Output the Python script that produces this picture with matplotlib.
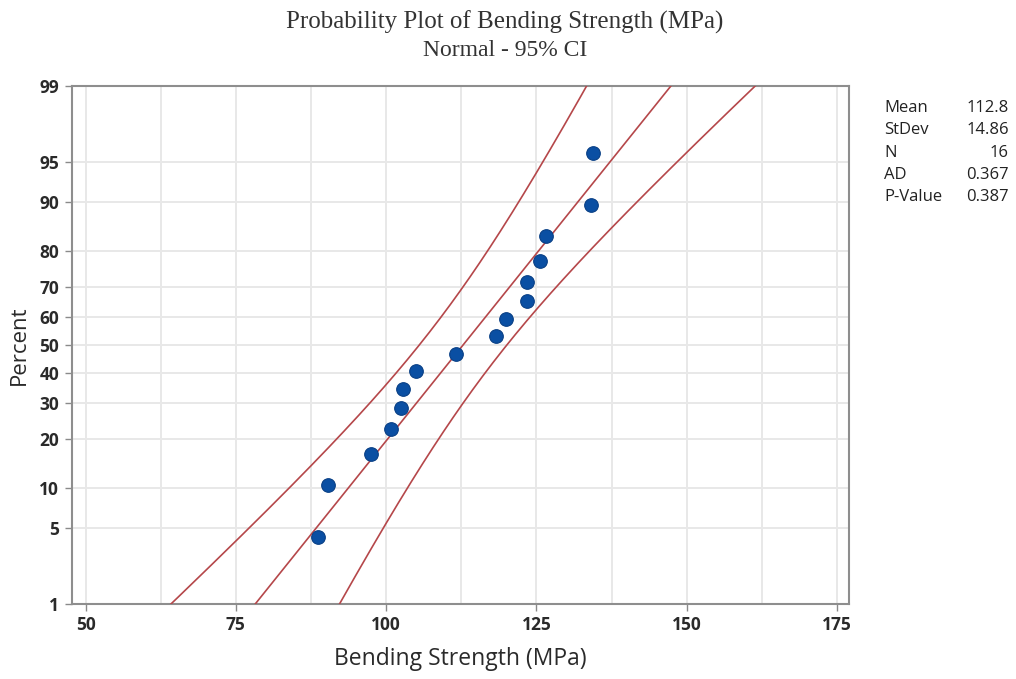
#Normal probability plot (Minitab style) with 95% CI bands
from statistics import NormalDist
import numpy as np
import matplotlib.pyplot as plt

#data
strength = [88.6, 90.4, 97.5, 100.8, 102.5, 102.8, 105.0, 111.6,
            118.2, 120.0, 123.4, 123.4, 125.6, 126.6, 134.1, 134.5]
mean = 112.8
stdev = 14.86
n = 16
ad = 0.367
p_value = 0.387
pct_ticks = [1, 5, 10, 20, 30, 40, 50, 60, 70, 80, 90, 95, 99]
x_ticks = [50, 75, 100, 125, 150, 175]

nd = NormalDist()
z = lambda p: nd.inv_cdf(p)

#median ranks (i-0.3)/(n+0.4), like Minitab
ranks = [(i + 1 - 0.3) / (n + 0.4) for i in range(n)]
zpts = [z(r) for r in ranks]

#fitted line + confidence bands for percentiles
zz = np.linspace(z(0.001), z(0.999), 300)
xfit = mean + zz * stdev
se = stdev * np.sqrt(1.0 / n + zz ** 2 / (2.0 * n))
zc = z(0.975)
lower = xfit - zc * se
upper = xfit + zc * se

plt.rcParams['font.family'] = ['Open Sans', 'DejaVu Sans']
fig = plt.figure(figsize=(10.16, 6.79), dpi=100)
ax = fig.add_axes([0.0706, 0.1105, 0.765, 0.7628])

line_col = '#b5474a'
ax.plot(xfit, zz, color=line_col, lw=1.2, zorder=3)
ax.plot(lower, zz, color=line_col, lw=1.2, zorder=3)
ax.plot(upper, zz, color=line_col, lw=1.2, zorder=3)
ax.plot(strength, zpts, 'o', color='#0a4fa3', mec='#083f85', mew=0.8, ms=9.8, zorder=4)

ax.set_xlim(47.7, 177)
ax.set_ylim(z(0.01), z(0.99))
ax.set_xticks(x_ticks)
ax.set_xticks(np.arange(50, 176, 12.5), minor=True)
ax.set_yticks([z(p / 100) for p in pct_ticks])
ax.set_yticklabels([str(p) for p in pct_ticks])
ax.tick_params(axis='x', which='minor', length=0)
ax.tick_params(axis='both', which='major', length=5, width=1, color='#8a8a8a',
               labelsize=12.5, labelcolor='#2a2a2a', pad=4)
for lab in ax.get_xticklabels() + ax.get_yticklabels():
    lab.set_fontweight('bold')
ax.grid(True, which='both', color='#e8e8e8', lw=1.4, zorder=0)
ax.set_axisbelow(True)
for s in ax.spines.values():
    s.set_color('#8e8e8e')
    s.set_linewidth(1.5)

ax.set_xlabel('Bending Strength (MPa)', fontsize=16.5, color='#2a2a2a', labelpad=9)
ax.set_ylabel('Percent', fontsize=16, color='#2a2a2a', labelpad=7)

fig.text(0.497, 0.967, 'Probability Plot of Bending Strength (MPa)', ha='center', va='center',
         fontsize=18, color='#333333', family='Liberation Serif')
fig.text(0.497, 0.925, 'Normal - 95% CI', ha='center', va='center',
         fontsize=17, color='#333333', family='Liberation Serif')

#stats box at the right
names = ['Mean', 'StDev', 'N', 'AD', 'P-Value']
vals = [f'{mean:.1f}', f'{stdev:.2f}', str(n), f'{ad:.3f}', f'{p_value:.3f}']
for i in range(len(names)):
    y = 1 - (108 + i * 22.3) / 679
    fig.text(884 / 1016, y, names[i], ha='left', va='center', fontsize=12, color='#222222')
    fig.text(1009 / 1016, y, vals[i], ha='right', va='center', fontsize=12, color='#222222')

plt.savefig('out.png', dpi=100)
